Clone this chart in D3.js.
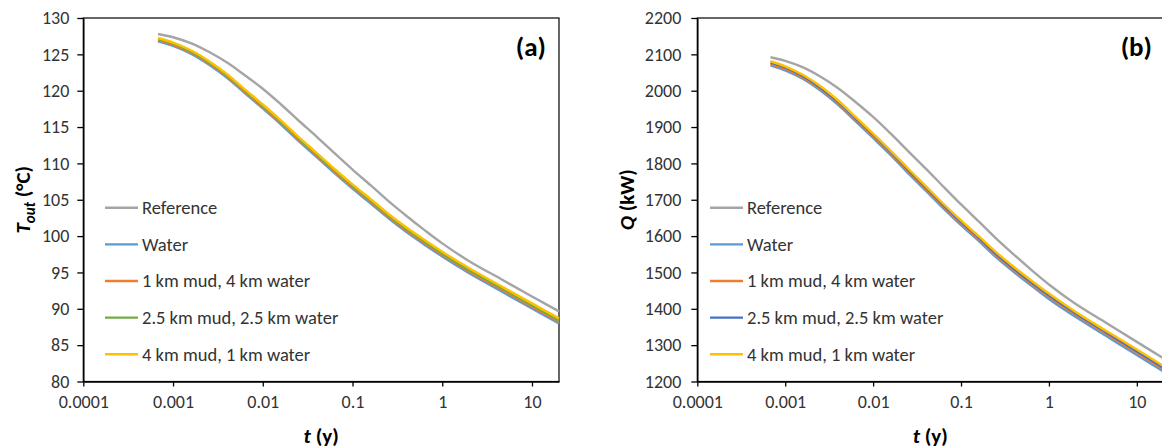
<!DOCTYPE html>
<html><head><meta charset="utf-8">
<script src="https://cdn.jsdelivr.net/npm/d3@7"></script>
<style>
html,body{margin:0;padding:0;background:#fff;overflow:hidden;}
svg{display:block;font-family:Carlito,Calibri,Lato,sans-serif;}
</style></head><body>
<svg id="c" width="1162" height="448"></svg>
<script>
// ---- data ----
const times = [0.00068, 0.001, 0.0016, 0.0025, 0.004, 0.0063, 0.01, 0.016, 0.025, 0.04, 0.063, 0.1, 0.16, 0.25, 0.4, 0.63, 1, 2, 4.5, 10, 20];
const seriesNames = ["Reference", "Water", "1 km mud, 4 km water", "2.5 km mud, 2.5 km water", "4 km mud, 1 km water"];

const tRef   = [127.8, 127.35, 126.51, 125.35, 123.87, 122.13, 120.27, 118.1, 115.9, 113.65, 111.4, 109.15, 106.97, 104.85, 102.77, 100.85, 99.0, 96.55, 94.1, 91.7, 89.65];
const tWater = [126.8, 126.16, 125.06, 123.6, 121.77, 119.68, 117.57, 115.35, 113.1, 110.86, 108.65, 106.53, 104.47, 102.47, 100.55, 98.85, 97.2, 94.9, 92.45, 90.05, 87.98];
const tMud1  = [126.95, 126.32, 125.22, 123.77, 121.94, 119.85, 117.75, 115.53, 113.29, 111.06, 108.85, 106.74, 104.68, 102.69, 100.77, 99.08, 97.43, 95.14, 92.69, 90.3, 88.23];
const tMud25 = [127.1, 126.47, 125.38, 123.92, 122.1, 120.02, 117.92, 115.7, 113.46, 111.23, 109.03, 106.91, 104.86, 102.87, 100.96, 99.26, 97.62, 95.33, 92.89, 90.49, 88.43];
const tMud4  = [127.25, 126.62, 125.53, 124.09, 122.27, 120.19, 118.1, 115.89, 113.65, 111.42, 109.23, 107.12, 105.07, 103.08, 101.18, 99.49, 97.85, 95.57, 93.13, 90.74, 88.68];

const qRef   = [2092, 2082, 2064, 2039, 2007, 1969, 1928, 1881, 1834, 1785, 1736, 1687, 1640, 1594, 1549, 1507, 1467, 1414, 1361, 1309, 1264];
const qWater = [2070, 2056, 2032, 2001, 1961, 1916, 1870, 1822, 1773, 1724, 1676, 1630, 1586, 1542, 1501, 1464, 1427, 1378, 1325, 1273, 1228];
const qMud1  = [2074, 2060, 2036, 2005, 1965, 1920, 1875, 1827, 1778, 1729, 1681, 1635, 1591, 1547, 1506, 1469, 1433, 1384, 1331, 1279, 1234];
const qMud25 = [2078, 2064, 2040, 2009, 1969, 1924, 1879, 1831, 1782, 1733, 1685, 1639, 1595, 1551, 1510, 1473, 1437, 1388, 1335, 1283, 1238];
const qMud4  = [2081, 2067, 2043, 2013, 1973, 1928, 1882, 1834, 1786, 1737, 1689, 1643, 1599, 1556, 1515, 1478, 1442, 1392, 1339, 1288, 1243];

const xTicks = [0.0001, 0.001, 0.01, 0.1, 1, 10];
const xTickLabels = ["0.0001", "0.001", "0.01", "0.1", "1", "10"];
const tTicks = [80, 85, 90, 95, 100, 105, 110, 115, 120, 125, 130];
const qTicks = [1200, 1300, 1400, 1500, 1600, 1700, 1800, 1900, 2000, 2100, 2200];

const colorsA = ["#A5A5A5", "#5B9BD5", "#ED7D31", "#70AD47", "#FFC000"];
const colorsB = ["#A5A5A5", "#5B9BD5", "#ED7D31", "#4472C4", "#FFC000"];

// ---- drawing ----
const svg = d3.select("#c");

function panel(opt) {
  const x = d3.scaleLog().domain([0.0001, 20]).range([opt.x0, opt.x1]);
  const y = d3.scaleLinear().domain(opt.yDomain).range([381.5, 18]);
  const g = svg.append("g");

  g.append("rect").attr("x", opt.x0).attr("y", 18).attr("width", opt.x1 - opt.x0).attr("height", 381.5 - 18)
    .attr("fill", "none").attr("stroke", "#000").attr("stroke-width", 1.2);

  const xa = g.append("g").attr("transform", "translate(0,381.5)")
    .call(d3.axisBottom(x).tickValues(xTicks).tickFormat((d, i) => xTickLabels[i]).tickSize(5).tickSizeOuter(0).tickPadding(9));
  const ya = g.append("g").attr("transform", `translate(${opt.x0},0)`)
    .call(d3.axisLeft(y).tickValues(opt.yTicks).tickFormat(d3.format("d")).tickSize(6).tickSizeOuter(0).tickPadding(opt.yPad));
  [xa, ya].forEach(a => {
    a.select(".domain").attr("stroke", "#000").attr("stroke-width", 1.5);
    a.selectAll(".tick line").attr("stroke", "#000").attr("stroke-width", 1.3);
    a.selectAll(".tick text").attr("fill", "#333").style("font-size", "18px").style("font-family", "Carlito,Calibri,Lato,sans-serif");
  });

  const line = d3.line().x((d, i) => x(times[i])).y(d => y(d)).curve(d3.curveCatmullRom.alpha(0.5));
  opt.series.forEach((s, k) => {
    g.append("path").datum(s).attr("d", line).attr("fill", "none")
      .attr("stroke", opt.colors[k]).attr("stroke-width", 2.4);
  });

  seriesNames.forEach((n, k) => {
    const yy = 207.7 + k * 36.65;
    g.append("line").attr("x1", opt.lx).attr("x2", opt.lx + 33).attr("y1", yy).attr("y2", yy)
      .attr("stroke", opt.colors[k]).attr("stroke-width", 2.4);
    g.append("text").attr("x", opt.lx + 37).attr("y", yy).attr("dy", "0.35em")
      .attr("fill", "#333").style("font-size", "18.5px").text(n);
  });

  g.append("text").attr("x", opt.tagX).attr("y", 56).attr("text-anchor", "end")
    .style("font-size", "27px").style("font-weight", "bold").attr("fill", "#000").text(opt.tag);

  const xt = g.append("text").attr("x", (opt.x0 + opt.x1) / 2).attr("y", 443).attr("text-anchor", "middle")
    .style("font-size", "21px").style("font-weight", "bold").attr("fill", "#000");
  xt.append("tspan").style("font-style", "italic").text("t");
  xt.append("tspan").text(" (y)");

  const yt = g.append("text").attr("transform", `translate(${opt.ytX},199.75) rotate(-90)`).attr("text-anchor", "middle")
    .style("font-size", "21px").style("font-weight", "bold").attr("fill", "#000");
  opt.yTitle(yt);
}

panel({
  x0: 83.3, x1: 559, yDomain: [80, 130], yTicks: tTicks, yPad: 8,
  series: [tRef, tWater, tMud1, tMud25, tMud4], colors: colorsA,
  lx: 105, tag: "(a)", tagX: 546, ytX: 30,
  yTitle: t => {
    t.append("tspan").style("font-style", "italic").text("T");
    t.append("tspan").style("font-style", "italic").style("font-size", "15px").attr("dy", "5").text("out");
    t.append("tspan").attr("dy", "-5").text(" (°C)");
  }
});
panel({
  x0: 697.3, x1: 1163.3, yDomain: [1200, 2200], yTicks: qTicks, yPad: 10,
  series: [qRef, qWater, qMud1, qMud25, qMud4], colors: colorsB,
  lx: 710, tag: "(b)", tagX: 1152, ytX: 634,
  yTitle: t => {
    t.append("tspan").style("font-style", "italic").text("Q");
    t.append("tspan").text(" (kW)");
  }
});
</script>
</body></html>
